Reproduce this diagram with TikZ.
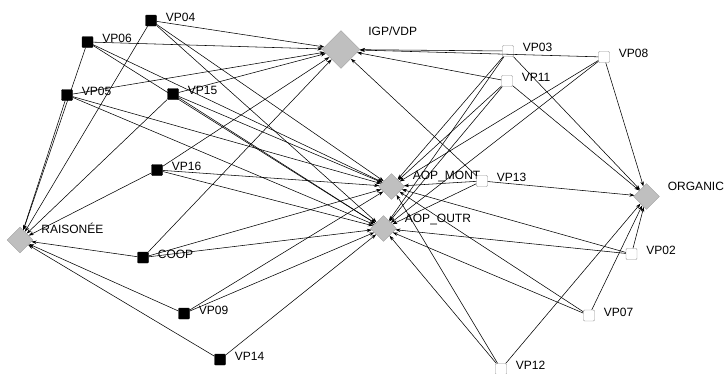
\documentclass[tikz,border=0pt]{standalone}
\usepackage{fontspec}
\setmainfont{Liberation Sans}
\usetikzlibrary{shapes.geometric,arrows.meta}

\begin{document}
\begin{tikzpicture}[x=1pt,y=-1pt,
  every node/.style={inner sep=0pt},
  dia/.style={diamond,draw=gray!75,fill=gray!50,minimum size=26pt},
  blk/.style={rectangle,draw=black,fill=black,rounded corners=1pt,minimum size=11pt},
  wht/.style={rectangle,draw=gray!85,fill=white,rounded corners=1pt,minimum size=11pt},
  lbl/.style={font=\fontsize{12}{14}\selectfont,inner sep=0pt},
  sqlbl/.style={lbl,label distance=9pt,yshift=3.5pt},
  dilbl/.style={lbl,label distance=8pt,yshift=10pt},
  link/.style={draw=black,line width=0.55pt,-{Stealth[length=5pt,width=3.5pt]}}]
\useasboundingbox (0,0) rectangle (725,373);
% diamonds
\node [dia,minimum size=38pt,label={[lbl,label distance=8pt,yshift=18pt]right:IGP/VDP}] (igp) at (341,49.5) {};
\node [dia,label={[dilbl]right:AOP\_MONT}] (mont) at (391.5,186.5) {};
\node [dia,label={[dilbl,yshift=-1pt]right:AOP\_OUTR}] (outr) at (383.5,228.5) {};
\node [dia,label={[dilbl]right:ORGANIC}] (organic) at (646.5,196.5) {};
\node [dia,label={[dilbl,yshift=2pt]right:RAISONÉE}] (rais) at (20,240) {};
% black squares
\node [blk,label={[sqlbl]right:VP04}] (vp04) at (151,20.5) {};
\node [blk,label={[sqlbl]right:VP06}] (vp06) at (87.5,42) {};
\node [blk,label={[sqlbl]right:VP05}] (vp05) at (67,95) {};
\node [blk,label={[sqlbl]right:VP15}] (vp15) at (173,94) {};
\node [blk,label={[sqlbl]right:VP16}] (vp16) at (157,170) {};
\node [blk,label={[sqlbl]right:COOP}] (coop) at (143,257.5) {};
\node [blk,label={[sqlbl]right:VP09}] (vp09) at (184,313.5) {};
\node [blk,label={[sqlbl]right:VP14}] (vp14) at (220,359.5) {};
% white squares
\node [wht,label={[sqlbl]right:VP03}] (vp03) at (508,51) {};
\node [wht,label={[sqlbl]right:VP08}] (vp08) at (604,57) {};
\node [wht,label={[sqlbl]right:VP11}] (vp11) at (507,81) {};
\node [wht,label={[sqlbl]right:VP13}] (vp13) at (482,181) {};
\node [wht,label={[sqlbl]right:VP02}] (vp02) at (631.5,254) {};
\node [wht,label={[sqlbl]right:VP07}] (vp07) at (589,315.5) {};
\node [wht,label={[sqlbl]right:VP12}] (vp12) at (501,369) {};
% links
\draw [link] (vp04) -- (igp);
\draw [link] (vp04) -- (rais);
\draw [link] (vp04) -- (mont);
\draw [link] (vp04) -- (outr);
\draw [link] (vp06) -- (igp);
\draw [link] (vp06) -- (rais);
\draw [link] (vp06) -- (mont);
\draw [link] (vp06) -- (outr);
\draw [link] (vp05) -- (igp);
\draw [link] (vp05) -- (rais);
\draw [link] (vp05) -- (mont);
\draw [link] (vp05) -- (outr);
\draw [link] (vp15) -- (igp);
\draw [link] (vp15) -- (rais);
\draw [link] (vp15) -- (mont);
\draw [link] (vp15) -- (outr);
\draw [link] (vp16) -- (igp);
\draw [link] (vp16) -- (rais);
\draw [link] (vp16) -- (mont);
\draw [link] (vp16) -- (outr);
\draw [link] (coop) -- (igp);
\draw [link] (coop) -- (rais);
\draw [link] (coop) -- (mont);
\draw [link] (coop) -- (outr);
\draw [link] (vp09) -- (rais);
\draw [link] (vp09) -- (mont);
\draw [link] (vp09) -- (outr);
\draw [link] (vp14) -- (rais);
\draw [link] (vp14) -- (outr);
\draw [link] (vp03) -- (igp);
\draw [link] (vp03) -- (mont);
\draw [link] (vp03) -- (outr);
\draw [link] (vp03) -- (organic);
\draw [link] (vp08) -- (igp);
\draw [link] (vp08) -- (mont);
\draw [link] (vp08) -- (outr);
\draw [link] (vp08) -- (organic);
\draw [link] (vp11) -- (igp);
\draw [link] (vp11) -- (mont);
\draw [link] (vp11) -- (outr);
\draw [link] (vp11) -- (organic);
\draw [link] (vp13) -- (igp);
\draw [link] (vp13) -- (mont);
\draw [link] (vp13) -- (outr);
\draw [link] (vp13) -- (organic);
\draw [link] (vp02) -- (mont);
\draw [link] (vp02) -- (outr);
\draw [link] (vp02) -- (organic);
\draw [link] (vp07) -- (mont);
\draw [link] (vp07) -- (outr);
\draw [link] (vp07) -- (organic);
\draw [link] (vp12) -- (mont);
\draw [link] (vp12) -- (outr);
\draw [link] (vp12) -- (organic);
\end{tikzpicture}
\end{document}
